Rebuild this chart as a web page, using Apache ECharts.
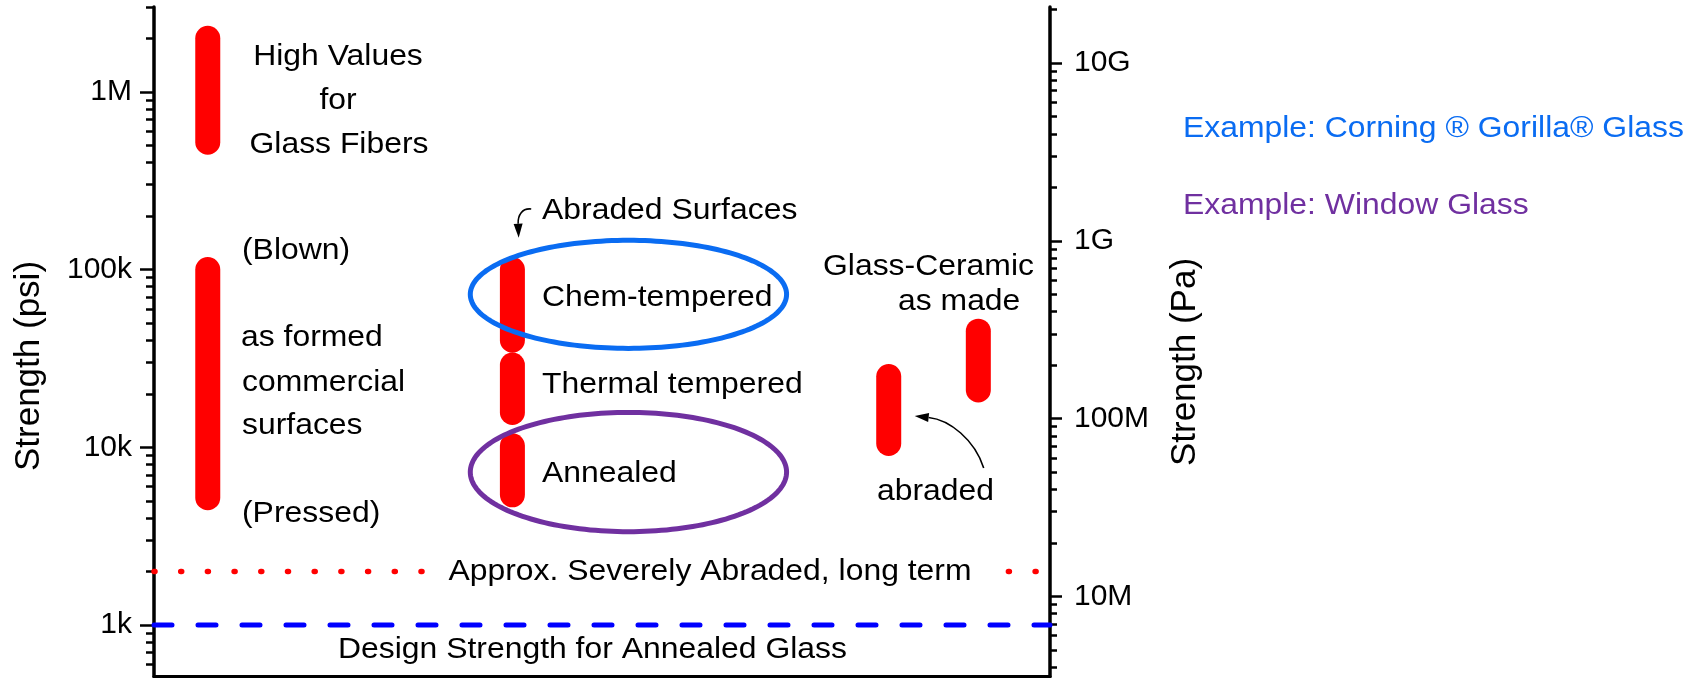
<!DOCTYPE html>
<html>
<head>
<meta charset="utf-8">
<title>Strength of Glass</title>
<script src="https://cdn.jsdelivr.net/npm/echarts@6/dist/echarts.min.js"></script>
<style>
  html, body { margin: 0; padding: 0; background: #ffffff; }
  #chart { width: 1699px; height: 678px; }
</style>
</head>
<body>
<div id="chart"></div>
<script>
// Strength ranges of glass (psi) by surface condition, on a logarithmic scale.
const barNames = ['Glass fibers', 'As formed', 'Chem-tempered', 'Thermal tempered', 'Annealed', 'Glass-ceramic abraded', 'Glass-ceramic as made'];
const barX    = [6, 6, 40, 40, 40, 82, 92];
const barLow  = [5.2e5, 5.2e3, 4.0e4, 1.57e4, 5.4e3, 1.05e4, 2.1e4];
const barHigh = [2.0e6, 1.0e5, 1.0e5, 2.9e4, 1.02e4, 2.5e4, 4.5e4];

// Reference levels (psi)
const severeAbradedPsi = 2000;
const designStrengthPsi = 1000;

// Highlight ellipses around the tempered / annealed ranges
const ellipseNames = ['Gorilla Glass', 'Window Glass'];
const ellipseXFrom = [35.3, 35.3];
const ellipseXTo   = [70.6, 70.6];
const ellipseLow   = [3.6e4, 3.35e3];
const ellipseHigh  = [1.46e5, 1.57e4];

// Pointer arrows: start, two control points, tip as [x, psi]
const arrowStart = [[42.1, 2.19e5], [92.6, 7.65e3]];
const arrowCtrl1 = [[41.1, 2.22e5], [91.6, 1.10e4]];
const arrowCtrl2 = [[40.6, 2.03e5], [88.8, 1.43e4]];
const arrowTip   = [[40.7, 1.51e5], [84.9, 1.50e4]];

// Axes
const psiRange = [513, 3.0e6];
const PSI_TO_PA = 6894.76;
const psiMajorTicks = [1e3, 1e4, 1e5, 1e6];
const psiLabels = ['1k', '10k', '100k', '1M'];
const psiMinorTicks = [600, 700, 800, 900,
  2e3, 3e3, 4e3, 5e3, 6e3, 7e3, 8e3, 9e3,
  2e4, 3e4, 4e4, 5e4, 6e4, 7e4, 8e4, 9e4,
  2e5, 3e5, 4e5, 5e5, 6e5, 7e5, 8e5, 9e5,
  2e6, 3e6];
const paMajorTicks = [1e7, 1e8, 1e9, 1e10];
const paLabels = ['10M', '100M', '1G', '10G'];
const paMinorTicks = [4e6, 5e6, 6e6, 7e6, 8e6, 9e6,
  2e7, 3e7, 4e7, 5e7, 6e7, 7e7, 8e7, 9e7,
  2e8, 3e8, 4e8, 5e8, 6e8, 7e8, 8e8, 9e8,
  2e9, 3e9, 4e9, 5e9, 6e9, 7e9, 8e9, 9e9,
  2e10];

const lg = Math.log10;
const RED = '#ff0000';
const ELLIPSE_COLORS = ['#0a6cf2', '#7030a0'];
const TEXT_FONT = '29px "Liberation Sans", Arial, sans-serif';
const TITLE_FONT = '35px "Liberation Sans", Arial, sans-serif';
const AXIS_FONT = { fontFamily: '"Liberation Sans", Arial, sans-serif', fontSize: 30, color: '#000' };

function labelFrom(ticks, labels) {
  return function (v) {
    for (let i = 0; i < ticks.length; i++) {
      if (Math.abs(lg(ticks[i]) - v) < 1e-6) return labels[i];
    }
    return '';
  };
}

function yAxisPair(position, range, major, minor, labels, majorLen, minorLen, margin) {
  const base = {
    type: 'value', position: position, gridIndex: 0,
    min: lg(range[0]), max: lg(range[1]),
    splitLine: { show: false }
  };
  return [
    Object.assign({}, base, {
      axisLine: { show: true, onZero: false, lineStyle: { color: '#000', width: 3.5 } },
      axisTick: { show: true, length: majorLen, lineStyle: { color: '#000', width: 2.5 }, customValues: major.map(lg) },
      axisLabel: Object.assign({ show: true, margin: margin, customValues: major.map(lg), formatter: labelFrom(major, labels) }, AXIS_FONT)
    }),
    Object.assign({}, base, {
      axisLine: { show: false, onZero: false },
      axisTick: { show: true, length: minorLen, lineStyle: { color: '#000', width: 2.5 }, customValues: minor.map(lg) },
      axisLabel: { show: false }
    })
  ];
}

const paRange = [psiRange[0] * PSI_TO_PA, psiRange[1] * PSI_TO_PA];
const yAxes = []
  .concat(yAxisPair('left', psiRange, psiMajorTicks, psiMinorTicks, psiLabels, 14, 8, 22))
  .concat(yAxisPair('right', paRange, paMajorTicks, paMinorTicks, paLabels, 12, 7, 24));

const barData = barX.map((x, i) => [x, lg(barLow[i]), lg(barHigh[i])]);
const ellipseData = ellipseNames.map((n, i) => [ellipseXFrom[i], ellipseXTo[i], lg(ellipseLow[i]), lg(ellipseHigh[i])]);
const arrowData = arrowStart.map((s, i) => [
  s[0], lg(s[1]), arrowCtrl1[i][0], lg(arrowCtrl1[i][1]),
  arrowCtrl2[i][0], lg(arrowCtrl2[i][1]), arrowTip[i][0], lg(arrowTip[i][1])
]);

// Text annotations
const notes = [
  { text: 'High Values', x: 338, y: 56.5, align: 'center' },
  { text: 'for', x: 338, y: 100.5, align: 'center' },
  { text: 'Glass Fibers', x: 339, y: 144.5, align: 'center' },
  { text: '(Blown)', x: 242, y: 250.5 },
  { text: 'as formed', x: 241, y: 337.5 },
  { text: 'commercial', x: 242, y: 382.5 },
  { text: 'surfaces', x: 242, y: 425.5 },
  { text: '(Pressed)', x: 242, y: 513.5 },
  { text: 'Abraded Surfaces', x: 542, y: 210.5 },
  { text: 'Chem-tempered', x: 542, y: 297.5 },
  { text: 'Thermal tempered', x: 542, y: 384.5 },
  { text: 'Annealed', x: 542, y: 473.5 },
  { text: 'Glass-Ceramic', x: 823, y: 266.5 },
  { text: 'as made', x: 898, y: 301.5 },
  { text: 'abraded', x: 877, y: 491.5 },
  { text: 'Approx. Severely Abraded, long term', x: 710, y: 571.5, align: 'center', bg: '#ffffff', pad: [0, 16] },
  { text: 'Design Strength for Annealed Glass', x: 338, y: 650 },
  { text: 'Example: Corning \u00AE Gorilla\u00AE Glass', x: 1183, y: 129, color: ELLIPSE_COLORS[0] },
  { text: 'Example: Window Glass', x: 1183, y: 206, color: ELLIPSE_COLORS[1] }
];

const graphicElements = notes.map(n => ({
  type: 'text', x: n.x, y: n.y, scaleX: 1.1, z: 50, silent: true,
  style: {
    text: n.text, font: TEXT_FONT, fill: n.color || '#000',
    align: n.align || 'left', verticalAlign: 'middle',
    backgroundColor: n.bg || 'transparent', padding: n.pad || 0
  }
})).concat([
  { type: 'text', x: 29, y: 366, rotation: Math.PI / 2, z: 50, silent: true,
    style: { text: 'Strength (psi)', font: TITLE_FONT, fill: '#000', align: 'center', verticalAlign: 'middle' } },
  { type: 'text', x: 1185, y: 362, rotation: Math.PI / 2, z: 50, silent: true,
    style: { text: 'Strength (Pa)', font: TITLE_FONT, fill: '#000', align: 'center', verticalAlign: 'middle' } }
]);

const chart = echarts.init(document.getElementById('chart'), null, { renderer: 'canvas', devicePixelRatio: 1 });

chart.setOption({
  animation: false,
  backgroundColor: '#ffffff',
  grid: { left: 154, right: 649, top: 7, bottom: 1.5, containLabel: false },
  xAxis: {
    type: 'value', min: 0, max: 100, position: 'bottom',
    axisLine: { show: true, onZero: false, lineStyle: { color: '#000', width: 3 } },
    axisTick: { show: false }, axisLabel: { show: false }, splitLine: { show: false }
  },
  yAxis: yAxes,
  graphic: { elements: graphicElements },
  series: [
    {
      name: 'Severely abraded', type: 'line', yAxisIndex: 0, silent: true, z: 2,
      symbol: 'none',
      data: [[0, lg(severeAbradedPsi)], [100, lg(severeAbradedPsi)]],
      lineStyle: { color: RED, width: 5.5, type: [1, 25.7], cap: 'round' }
    },
    {
      name: 'Design strength', type: 'line', yAxisIndex: 0, silent: true, z: 2,
      symbol: 'none',
      data: [[0, lg(designStrengthPsi)], [100, lg(designStrengthPsi)]],
      lineStyle: { color: '#0000ff', width: 5, type: [18, 26], cap: 'round' }
    },
    {
      name: 'Strength ranges', type: 'custom', yAxisIndex: 0, silent: true, z: 3, clip: false,
      data: barData,
      encode: { x: 0, y: [1, 2] },
      renderItem: function (params, api) {
        const a = api.coord([api.value(0), api.value(1)]);
        const b = api.coord([api.value(0), api.value(2)]);
        return {
          type: 'line',
          shape: { x1: a[0], y1: a[1], x2: b[0], y2: b[1] },
          style: { stroke: RED, lineWidth: 25, lineCap: 'round', fill: 'none' }
        };
      }
    },
    {
      name: 'Examples', type: 'custom', yAxisIndex: 0, silent: true, z: 4, clip: false,
      data: ellipseData,
      encode: { x: [0, 1], y: [2, 3] },
      renderItem: function (params, api) {
        const tl = api.coord([api.value(0), api.value(3)]);
        const br = api.coord([api.value(1), api.value(2)]);
        const cx = (tl[0] + br[0]) / 2, cy = (tl[1] + br[1]) / 2;
        const rx = Math.abs(br[0] - tl[0]) / 2, ry = Math.abs(br[1] - tl[1]) / 2;
        const pts = [];
        for (let k = 0; k < 180; k++) {
          const t = k / 180 * Math.PI * 2;
          pts.push([cx + rx * Math.cos(t), cy + ry * Math.sin(t)]);
        }
        return {
          type: 'polygon',
          shape: { points: pts },
          style: { stroke: ELLIPSE_COLORS[params.dataIndex], lineWidth: 5, fill: 'none' }
        };
      }
    },
    {
      name: 'Pointers', type: 'custom', yAxisIndex: 0, silent: true, z: 5, clip: false,
      data: arrowData,
      encode: { x: [0, 2, 4, 6], y: [1, 3, 5, 7] },
      renderItem: function (params, api) {
        const p0 = api.coord([api.value(0), api.value(1)]);
        const c1 = api.coord([api.value(2), api.value(3)]);
        const c2 = api.coord([api.value(4), api.value(5)]);
        const p3 = api.coord([api.value(6), api.value(7)]);
        let dx = p3[0] - c2[0], dy = p3[1] - c2[1];
        const len = Math.sqrt(dx * dx + dy * dy) || 1;
        dx /= len; dy /= len;
        const headLen = 14, headHalf = 4.5;
        const bx = p3[0] - dx * headLen, by = p3[1] - dy * headLen;
        return {
          type: 'group',
          children: [
            {
              type: 'bezierCurve',
              shape: { x1: p0[0], y1: p0[1], cpx1: c1[0], cpy1: c1[1], cpx2: c2[0], cpy2: c2[1], x2: bx, y2: by },
              style: { stroke: '#000', lineWidth: 1.6, fill: 'none' }
            },
            {
              type: 'polygon',
              shape: { points: [[p3[0], p3[1]], [bx - dy * headHalf, by + dx * headHalf], [bx + dy * headHalf, by - dx * headHalf]] },
              style: { fill: '#000', stroke: 'none' }
            }
          ]
        };
      }
    }
  ]
});
</script>
</body>
</html>
